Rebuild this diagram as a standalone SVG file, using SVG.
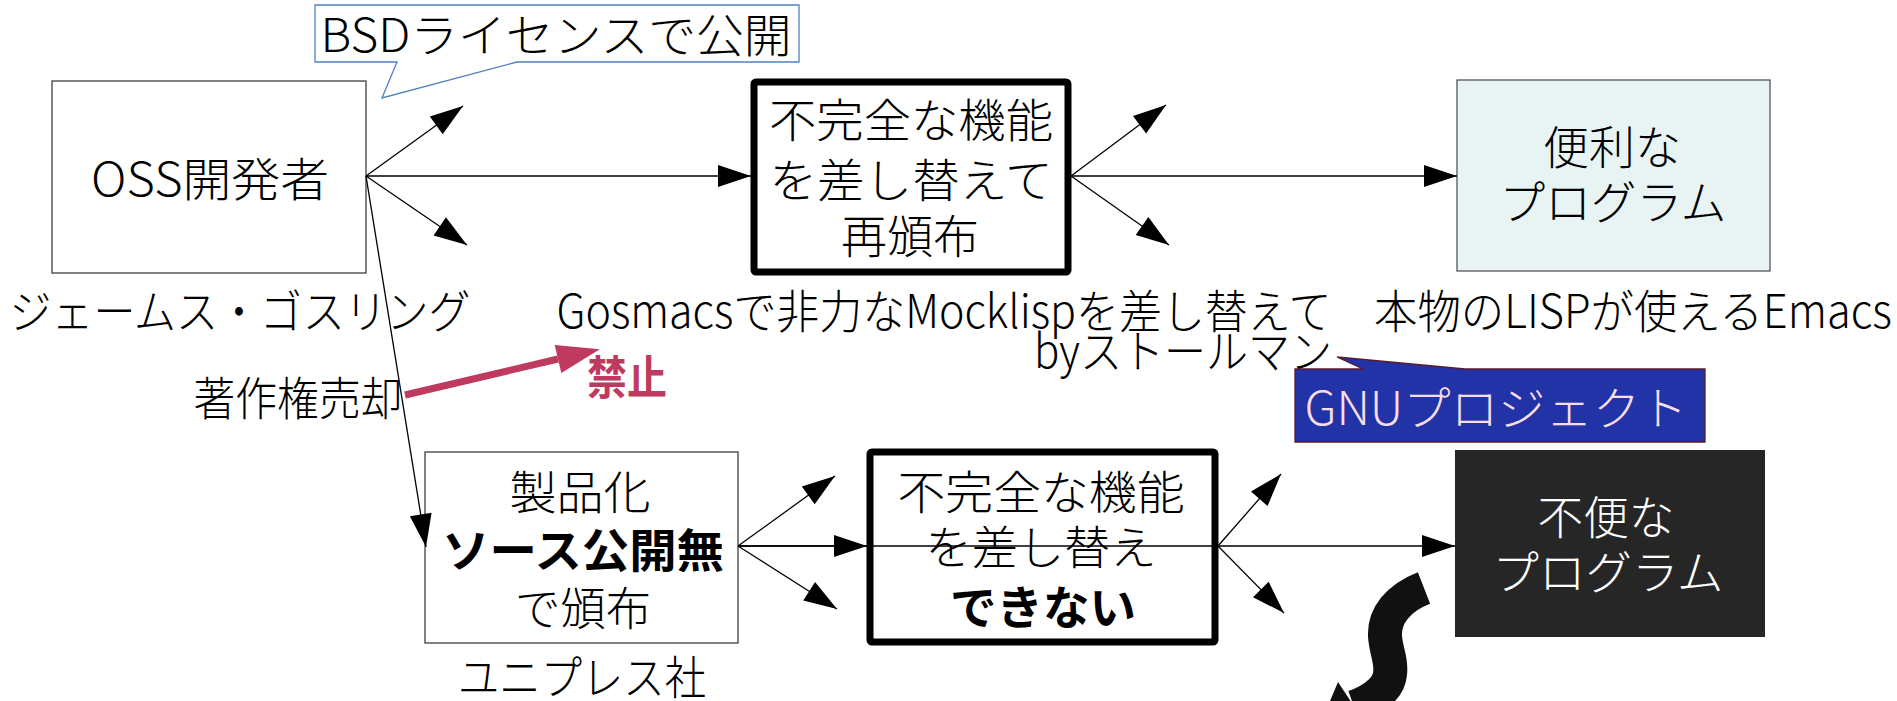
<svg xmlns="http://www.w3.org/2000/svg" width="1897" height="701" viewBox="0 0 1897 701">
<style>
.t{font-family:"Noto Sans CJK JP","Noto Sans",sans-serif;font-weight:300;font-size:46px;text-anchor:middle;fill:#000}
.b{font-weight:700}
.w{fill:#fff}
.box{fill:#fff;stroke:#404040;stroke-width:1.3}
.thick{fill:#fff;stroke:#000;stroke-width:7}
.c{stroke:#000;stroke-width:1.3;fill:none;marker-end:url(#ah)}
</style>
<defs>
<marker id="ah" markerUnits="userSpaceOnUse" markerWidth="34" markerHeight="24" refX="33" refY="11" orient="auto" overflow="visible">
<path d="M0,0 L33,11 L0,22 Z" fill="#000"/>
</marker>
<marker id="rah" markerUnits="userSpaceOnUse" markerWidth="44" markerHeight="30" refX="0" refY="14.5" orient="auto" overflow="visible">
<path d="M0,0 L43,14.5 L0,29 Z" fill="#BE3A5E"/>
</marker>
</defs>

<g id="bsd-callout">
<path d="M315,5 H799 V62 H517 L382,98 L397,62 H315 Z" fill="#fff" stroke="#4F81BD" stroke-width="1.3"/>
<text class="t" x="556" y="52" textLength="471" lengthAdjust="spacingAndGlyphs">BSDライセンスで公開</text>
</g>

<g id="oss">
<rect class="box" x="52" y="81" width="314" height="192"/>
<text class="t" x="210" y="196" textLength="238" lengthAdjust="spacingAndGlyphs">OSS開発者</text>
</g>

<g id="replace">
<rect class="thick" x="754" y="82" width="314" height="190" rx="2"/>
<text class="t" x="911" y="137" textLength="284" lengthAdjust="spacingAndGlyphs">不完全な機能</text>
<text class="t" x="911" y="197" textLength="283" lengthAdjust="spacingAndGlyphs">を差し替えて</text>
<text class="t" x="910" y="253" textLength="138" lengthAdjust="spacingAndGlyphs">再頒布</text>
</g>

<g id="useful">
<rect x="1457" y="80" width="313" height="191" fill="#E7F4F3" stroke="#555" stroke-width="1.3"/>
<text class="t" x="1612" y="164" textLength="138" lengthAdjust="spacingAndGlyphs">便利な</text>
<text class="t" x="1613" y="219" textLength="227" lengthAdjust="spacingAndGlyphs">プログラム</text>
</g>

<g id="labels">
<text class="t" x="240" y="328" textLength="461" lengthAdjust="spacingAndGlyphs">ジェームス・ゴスリング</text>
<text class="t" x="944" y="328" textLength="775" lengthAdjust="spacingAndGlyphs">Gosmacsで非力なMocklispを差し替えて</text>
<text class="t" x="1183" y="368" textLength="298" lengthAdjust="spacingAndGlyphs">byストールマン</text>
<text class="t" x="1633" y="328" textLength="518" lengthAdjust="spacingAndGlyphs">本物のLISPが使えるEmacs</text>
<text class="t" x="298" y="415" font-size="42" textLength="209" lengthAdjust="spacingAndGlyphs">著作権売却</text>
<text class="t" x="582" y="694" textLength="248" lengthAdjust="spacingAndGlyphs">ユニプレス社</text>
</g>

<g id="forbid">
<text class="t b" x="627" y="394" font-size="40" fill="#BE3A5E" style="fill:#BE3A5E" textLength="80" lengthAdjust="spacingAndGlyphs">禁止</text>
</g>

<g id="product">
<rect class="box" x="425" y="452" width="313" height="191" stroke="#333"/>
<text class="t" x="580" y="509" textLength="141" lengthAdjust="spacingAndGlyphs">製品化</text>
<text class="t b" x="583" y="567" textLength="282" lengthAdjust="spacingAndGlyphs">ソース公開無</text>
<text class="t" x="583" y="625" textLength="136" lengthAdjust="spacingAndGlyphs">で頒布</text>
</g>

<g id="cannot">
<rect class="thick" x="870" y="452" width="345" height="190" rx="2"/>
<text class="t" x="1041" y="509" textLength="287" lengthAdjust="spacingAndGlyphs">不完全な機能</text>
<text class="t" x="1041" y="564" textLength="231" lengthAdjust="spacingAndGlyphs">を差し替え</text>
<text class="t b" x="1043" y="624" textLength="186" lengthAdjust="spacingAndGlyphs">できない</text>
</g>

<g id="inconvenient">
<rect x="1455" y="450" width="310" height="187" fill="#262626"/>
<text class="t w" x="1606" y="534" textLength="137" lengthAdjust="spacingAndGlyphs">不便な</text>
<text class="t w" x="1608" y="589" textLength="231" lengthAdjust="spacingAndGlyphs">プログラム</text>
</g>

<g id="gnu-callout">
<path d="M1295,369 H1363 L1337,357 L1465,369 H1705 V442 H1295 Z" fill="#2233A8" stroke="#5A1A2A" stroke-width="1.3"/>
<text class="t" x="1496" y="425" style="fill:#F7DDE6" textLength="383" lengthAdjust="spacingAndGlyphs">GNUプロジェクト</text>
</g>

<g id="connectors">
<line class="c" x1="366" y1="176" x2="751" y2="176"/>
<line class="c" x1="366" y1="176" x2="463" y2="106"/>
<line class="c" x1="366" y1="176" x2="467" y2="245"/>
<line class="c" x1="366" y1="176" x2="426" y2="547"/>
<line class="c" x1="1071" y1="176" x2="1457" y2="176"/>
<line class="c" x1="1071" y1="176" x2="1166" y2="105"/>
<line class="c" x1="1071" y1="176" x2="1169" y2="245"/>
<line class="c" x1="738" y1="546" x2="867" y2="546"/>
<line class="c" x1="738" y1="546" x2="1455" y2="546" stroke="#444"/>
<line class="c" x1="738" y1="546" x2="835" y2="476"/>
<line class="c" x1="738" y1="546" x2="837" y2="609"/>
<line class="c" x1="1218" y1="546" x2="1281" y2="474"/>
<line class="c" x1="1218" y1="546" x2="1284" y2="613"/>
<line x1="405" y1="395" x2="558" y2="359" stroke="#BE3A5E" stroke-width="7" marker-end="url(#rah)"/>
<path d="M1424,588 C1398,598 1384,616 1385,636 C1386,652 1392,660 1390,674 C1389,686 1377,699 1354,707" fill="none" stroke="#111" stroke-width="34"/>
<path d="M1338,682 L1371,732 L1317,732 Z" fill="#111"/>
</g>
</svg>
